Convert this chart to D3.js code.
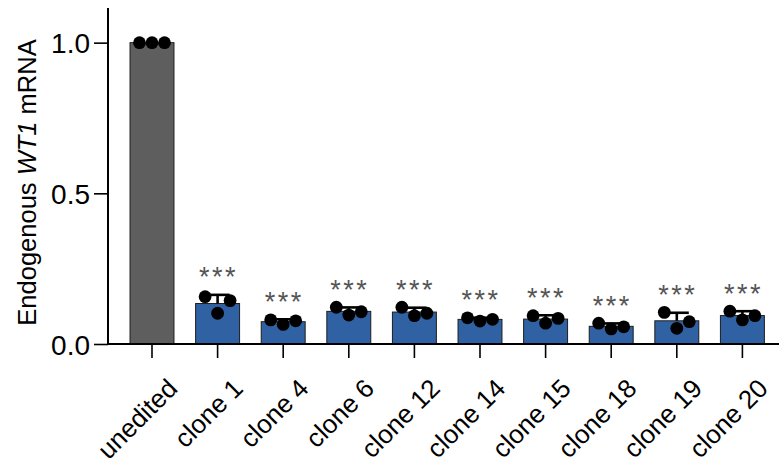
<!DOCTYPE html>
<html>
<head>
<meta charset="utf-8">
<script src="https://cdn.jsdelivr.net/npm/d3@7"></script>
<style>
  body { margin: 0; background: #fff; }
  svg { display: block; }
  text { font-family: "Liberation Sans", Arial, Helvetica, sans-serif; }
</style>
</head>
<body>
<svg id="chart" width="779" height="468"></svg>
<script>
// Relative endogenous WT1 mRNA, three replicates per sample (left, middle, right dot)
const categories = ["unedited", "clone 1", "clone 4", "clone 6", "clone 12",
                    "clone 14", "clone 15", "clone 18", "clone 19", "clone 20"];
const rep1 = [1.0, 0.157, 0.080, 0.122, 0.122, 0.087, 0.094, 0.069, 0.105, 0.109];
const rep2 = [1.0, 0.102, 0.065, 0.096, 0.094, 0.076, 0.069, 0.050, 0.052, 0.080];
const rep3 = [1.0, 0.144, 0.077, 0.107, 0.102, 0.082, 0.085, 0.057, 0.074, 0.094];
const significance = ["", "***", "***", "***", "***", "***", "***", "***", "***", "***"];
const yTicks = [0, 0.5, 1.0];
const yLabel = ["Endogenous ", "WT1", " mRNA"];

const W = 779, H = 468;
const svg = d3.select("#chart");

const data = categories.map((c, i) => {
  const reps = [rep1[i], rep2[i], rep3[i]];
  return {
    cat: c, reps,
    mean: d3.mean(reps),
    sd: d3.deviation(reps) || 0,
    sig: significance[i],
    control: i === 0
  };
});

const axisX = 108, baseY = 344;

const x = d3.scaleBand()
  .domain(categories)
  .range([axisX, 786.4])
  .paddingInner(0.33)
  .paddingOuter(0.3357);

const y = d3.scaleLinear().domain([0, 1.115]).range([baseY, 8]);

const repPos = d3.scalePoint().domain([0, 1, 2]).range([-12.5, 12.5]);

// Bars
svg.append("g").selectAll("rect").data(data).join("rect")
  .attr("x", d => x(d.cat))
  .attr("width", x.bandwidth())
  .attr("y", d => y(d.mean))
  .attr("height", d => y(0) - y(d.mean))
  .attr("fill", d => d.control ? "#5e5e5e" : "#2f61a3")
  .attr("stroke", "#1e1e1e")
  .attr("stroke-width", 1);

// Error bars (mean + SD, upper only)
const eb = svg.append("g").attr("stroke", "#000").attr("stroke-width", 2.6);
data.filter(d => d.sd > 0).forEach(d => {
  const cx = x(d.cat) + x.bandwidth() / 2;
  eb.append("line").attr("x1", cx).attr("x2", cx)
    .attr("y1", y(d.mean)).attr("y2", y(d.mean + d.sd));
  eb.append("line").attr("x1", cx - 12).attr("x2", cx + 12)
    .attr("y1", y(d.mean + d.sd)).attr("y2", y(d.mean + d.sd));
});

// Replicate dots
svg.append("g").selectAll("g").data(data).join("g")
  .attr("transform", d => `translate(${x(d.cat) + x.bandwidth() / 2},0)`)
  .selectAll("circle").data(d => d.reps).join("circle")
  .attr("cx", (v, j) => repPos(j))
  .attr("cy", v => y(v))
  .attr("r", 6.4)
  .attr("fill", "#000");

// Significance asterisks
svg.append("g").selectAll("text").data(data.filter(d => d.sig)).join("text")
  .attr("x", d => x(d.cat) + x.bandwidth() / 2 + 1)
  .attr("y", d => y(d.mean + d.sd) - 8.5)
  .attr("text-anchor", "middle")
  .attr("font-size", 27)
  .attr("letter-spacing", 2.5)
  .attr("fill", "#555")
  .text(d => d.sig);

// Y axis
const yAxis = svg.append("g")
  .attr("transform", `translate(${axisX},0)`)
  .call(d3.axisLeft(y).tickValues(yTicks).tickFormat(d3.format(".1f"))
        .tickSize(14).tickPadding(4));
yAxis.select(".domain").attr("stroke", "#000").attr("stroke-width", 2)
  .attr("d", `M0,${y(1.115)}V${baseY}`);
yAxis.selectAll(".tick line").attr("stroke", "#000").attr("stroke-width", 1.6);
yAxis.selectAll(".tick text").attr("font-size", 28).attr("fill", "#000")
  .attr("font-family", "Liberation Sans, Arial, sans-serif").attr("dy", "0.36em");

// X axis
const xAxis = svg.append("g")
  .attr("transform", `translate(0,${baseY})`)
  .call(d3.axisBottom(x).tickSize(14).tickSizeOuter(0));
xAxis.select(".domain").attr("stroke", "#000").attr("stroke-width", 2)
  .attr("d", `M${axisX},0H${W}`);
xAxis.selectAll(".tick line").attr("stroke", "#000").attr("stroke-width", 1.6);
xAxis.selectAll(".tick text")
  .attr("font-size", 26).attr("fill", "#000")
  .attr("font-family", "Liberation Sans, Arial, sans-serif")
  .attr("text-anchor", "end")
  .attr("dy", null).attr("y", null)
  .attr("transform", "translate(27,46) rotate(-45)");

// Y axis title with italic gene name
const title = svg.append("text")
  .attr("transform", `translate(36,${182.5}) rotate(-90)`)
  .attr("text-anchor", "middle")
  .attr("font-size", 25.5)
  .attr("fill", "#000");
title.append("tspan").text(yLabel[0]);
title.append("tspan").attr("font-style", "italic").text(yLabel[1]);
title.append("tspan").text(yLabel[2]);
</script>
</body>
</html>
